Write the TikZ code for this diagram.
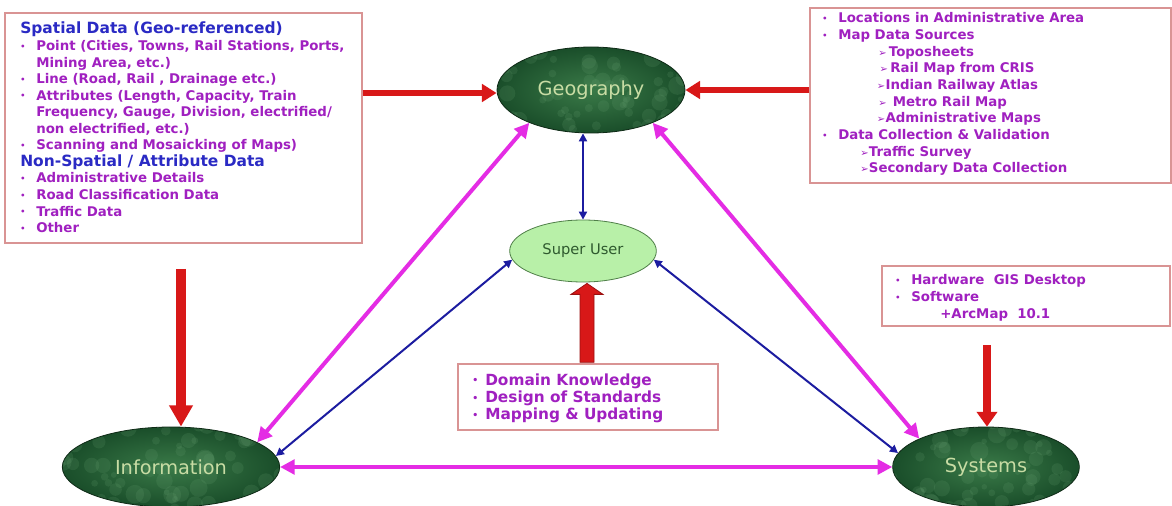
\documentclass[tikz,border=0pt]{standalone}
\usepackage{fontspec}
\setmainfont{DejaVu Sans}
\newfontfamily\dingfont{DejaVu Sans}
\usetikzlibrary{arrows.meta,shapes.geometric,calc,fit}
\definecolor{boxline}{HTML}{D99494}
\definecolor{ttl}{HTML}{2A2AC4}
\definecolor{itm}{HTML}{A020C0}
\definecolor{redA}{HTML}{D81818}
\definecolor{redD}{HTML}{9A1010}
\definecolor{mag}{HTML}{E42CE4}
\definecolor{blu}{HTML}{1C1CA0}
\definecolor{ellText}{HTML}{C8DCA4}
\definecolor{ellIn}{HTML}{3A7A48}
\definecolor{ellOut}{HTML}{1A4E2A}
\definecolor{ellSpot}{HTML}{6FA878}
\definecolor{ellLine}{HTML}{0E2A16}
\definecolor{suFill}{HTML}{B8F0A8}
\definecolor{suLine}{HTML}{4F7F48}
\definecolor{suText}{HTML}{2F5A2F}
\newcommand\bu{\makebox[12pt][l]{\raisebox{1pt}{\fontsize{6pt}{6pt}\selectfont •}}}
\newcommand\bud{\makebox[9.75pt][l]{\raisebox{1pt}{\fontsize{7pt}{7pt}\selectfont •}}}
\newcommand\sa{{\dingfont\mdseries\fontsize{7.5pt}{7.5pt}\selectfont ➢}}
\newcommand\ttlf{\fontsize{11.6pt}{12.4pt}\selectfont\color{ttl}}
\begin{document}
\begin{tikzpicture}[x=0.75pt,y=-0.75pt,
  panel/.style={draw=boxline, line width=1pt, inner sep=0pt},
  boxtext/.style={anchor=base west, inner sep=0pt, text=itm, font=\fontsize{10pt}{12.4pt}\selectfont\bfseries},
  marble/.style={path picture={
    \pgfmathsetseed{#1}
    \foreach \k in {1,...,70}{
      \pgfmathsetmacro\rx{rand*110}
      \pgfmathsetmacro\ry{rand*45}
      \pgfmathsetmacro\rr{2+5*rnd}
      \fill[ellSpot, opacity=0.16] ($(path picture bounding box.center)+(\rx,\ry)$) circle[radius=\rr pt];
    }}},
  ell/.style={ellipse, draw=ellLine, line width=0.6pt, inner color=ellIn, outer color=ellOut,
    text=ellText, font=\fontsize{14.5pt}{16pt}\selectfont, inner sep=0pt},
  redarr/.style={draw=redA, line width=5pt, -{Triangle[length=11pt,width=13pt]}},
  redbig/.style={draw=redA, line width=7pt, -{Triangle[length=16pt,width=17pt]}},
  magarr/.style={draw=mag, line width=3pt, {Triangle[length=11pt,width=11pt]}-{Triangle[length=11pt,width=11pt]}},
  bluarr/.style={draw=blu, line width=1.5pt, {Triangle[length=6pt,width=6pt]}-{Triangle[length=6pt,width=6pt]}}
]
\useasboundingbox (0,0) rectangle (1172,506);
\fill[white] (0,0) rectangle (1172,506);

% boxes
\node[panel, fit={(5,13) (362,243)}] (spatial) {};
\node[boxtext] (spatialtxt) at (20,34) {\begin{tabular}[t]{@{}l@{}}
{\ttlf Spatial Data (Geo-referenced)}\\
\bu Point (Cities, Towns, Rail Stations, Ports,\\
\hspace*{12pt}Mining Area, etc.)\\
\bu Line (Road, Rail , Drainage etc.)\\
\bu Attributes (Length, Capacity, Train\\
\hspace*{12pt}Frequency, Gauge, Division, electrified/\\
\hspace*{12pt}non electrified, etc.)\\
\bu Scanning and Mosaicking of Maps)\\
{\ttlf Non-Spatial / Attribute Data}\\
\bu Administrative Details\\
\bu Road Classification Data\\
\bu Traffic Data\\
\bu Other
\end{tabular}};

\node[panel, fit={(810,8) (1171,183)}] (mapsrc) {};
\node[boxtext, font=\fontsize{10pt}{12.5pt}\selectfont\bfseries] (mapsrctxt) at (822,23) {\begin{tabular}[t]{@{}l@{}}
\bu Locations in Administrative Area\\
\bu Map Data Sources\\
\hspace*{42pt}\makebox[8pt][l]{\sa}Toposheets\\
\hspace*{43pt}\makebox[8pt][l]{\sa}Rail Map from CRIS\\
\hspace*{41pt}\makebox[6.5pt][l]{\sa}Indian Railway Atlas\\
\hspace*{42pt}\makebox[11pt][l]{\sa}Metro Rail Map\\
\hspace*{41pt}\makebox[6.5pt][l]{\sa}Administrative Maps\\
\bu Data Collection \& Validation\\
\hspace*{28.5pt}\makebox[6.5pt][l]{\sa}Traffic Survey\\
\hspace*{28.5pt}\makebox[6.5pt][l]{\sa}Secondary Data Collection
\end{tabular}};

\node[panel, fit={(882,266) (1170,326)}] (hw) {};
\node[boxtext] (hwtxt) at (895,285) {\begin{tabular}[t]{@{}l@{}}
\bu Hardware\ \ GIS Desktop\\
\bu Software\\
\hspace*{33.75pt}+ArcMap\ \ 10.1
\end{tabular}};

\node[panel, fit={(458,364) (718,430)}] (dk) {};
\node[boxtext, font=\fontsize{11.5pt}{13.1pt}\selectfont\bfseries] (dktxt) at (472,385) {\begin{tabular}[t]{@{}l@{}}
\bud Domain Knowledge\\
\bud Design of Standards\\
\bud Mapping \& Updating
\end{tabular}};

% ellipses
\node[ell, marble=11, minimum width=141pt, minimum height=64.5pt] (geo) at (591,90) {Geography};
\node[ellipse, draw=suLine, line width=0.6pt, fill=suFill, text=suText,
  font=\fontsize{11pt}{12pt}\selectfont, minimum width=110pt, minimum height=46.5pt, inner sep=0pt] (su) at (583,251) {Super User};
\node[ell, marble=23, minimum width=163pt, minimum height=60pt] (info) at (171,467) {Information};
\node[ell, marble=37, minimum width=140pt, minimum height=60pt] (sys) at (986,467) {Systems};

% red arrows
\draw[redarr] (spatial.east |- 0,93) -- (geo.west |- 0,93);
\draw[redarr] (mapsrc.west |- geo) -- (geo.east);
\draw[redbig] ([yshift=-19pt]spatial.south -| 181,0) -- (info.north -| 181,0);
\draw[draw=redA, line width=6.5pt, -{Triangle[length=11pt,width=15pt]}] ([yshift=-14pt]hw.south -| 987,0) -- (sys.north -| 987,0);
\coordinate (bt) at (su.south -| 587,0);
\coordinate (bb) at (dk.north -| 587,0);
\draw[fill=redA, draw=redD, line width=0.6pt, line join=miter]
  ($(bb)+(-7,-1)$) -- ($(bt)+(-7,12)$) -- ($(bt)+(-16,12)$) -- ($(bt)+(0,1)$)
  -- ($(bt)+(16,12)$) -- ($(bt)+(7,12)$) -- ($(bb)+(7,-1)$) -- cycle;

% magenta arrows
\draw[magarr] (info.16) -- (geo.208);
\draw[magarr] (geo.332) -- (sys.157);
\draw[magarr] (info.east) -- (sys.west);

% blue arrows
\draw[bluarr] (geo.south -| su.north) -- (su.north);
\draw[bluarr] (info.6) -- (su.187);
\draw[bluarr] (sys.171) -- (su.353);
\end{tikzpicture}
\end{document}
